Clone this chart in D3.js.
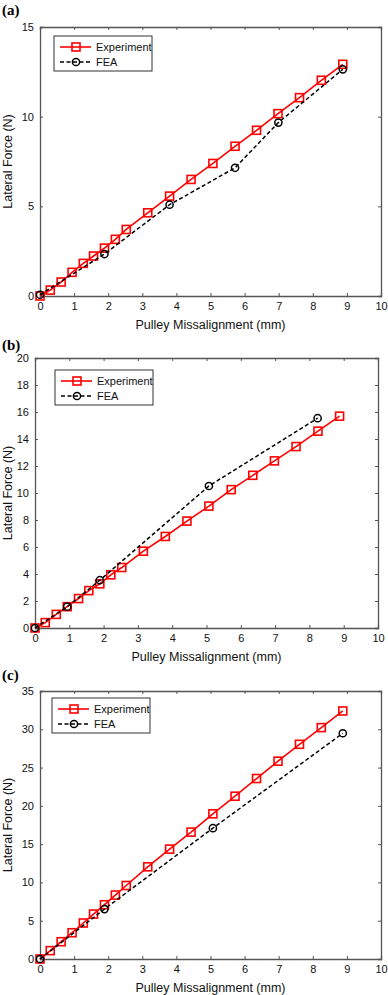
<!DOCTYPE html>
<html>
<head>
<meta charset="utf-8">
<script src="https://d3js.org/d3.v7.min.js"></script>
<style>
  body { margin: 0; background: #fff; }
  text { font-family: "Liberation Sans", Arial, sans-serif; fill: #111; }
  .panel-label { font-family: "Liberation Serif", "Times New Roman", serif; font-weight: bold; font-size: 15px; fill: #000; }
</style>
</head>
<body>
<svg id="chart" width="388" height="995"></svg>
<script>
// Section: data (mm, N)
var xExp = [0, 0.3, 0.62, 0.94, 1.27, 1.57, 1.89, 2.21, 2.53, 3.16, 3.8, 4.43, 5.07, 5.72, 6.35, 6.98, 7.61, 8.25, 8.88];

var yExpA = [0, 0.33, 0.78, 1.32, 1.82, 2.23, 2.67, 3.16, 3.71, 4.64, 5.57, 6.5, 7.39, 8.35, 9.24, 10.17, 11.06, 12.03, 12.92];
var xFeaA = [0, 1.89, 3.8, 5.72, 6.99, 8.88];
var yFeaA = [0.07, 2.34, 5.09, 7.15, 9.67, 12.64];

var yExpB = [0, 0.4, 1.01, 1.58, 2.18, 2.77, 3.27, 3.94, 4.48, 5.69, 6.78, 7.92, 9.03, 10.25, 11.31, 12.38, 13.44, 14.58, 15.69];
var xFeaB = [0, 0.94, 1.89, 5.07, 8.24];
var yFeaB = [0, 1.58, 3.54, 10.52, 15.54];

var yExpC = [0, 1.09, 2.26, 3.43, 4.7, 5.87, 7.09, 8.35, 9.6, 12.04, 14.35, 16.57, 18.96, 21.26, 23.57, 25.83, 28.04, 30.22, 32.39];
var xFeaC = [0, 1.89, 5.07, 8.88];
var yFeaC = [0, 6.52, 17.09, 29.48];

var xTicks = [0, 1, 2, 3, 4, 5, 6, 7, 8, 9, 10];
var yTicksA = [0, 5, 10, 15];
var yTicksB = [0, 2, 4, 6, 8, 10, 12, 14, 16, 18, 20];
var yTicksC = [0, 5, 10, 15, 20, 25, 30, 35];

var panelNames = ['(a)', '(b)', '(c)'];
var seriesNames = ['Experiment', 'FEA'];
var xTitle = 'Pulley Missalignment (mm)';
var yTitle = 'Lateral Force (N)';

// Section: layout per panel
var panels = [
    {name: panelNames[0], l: 40, r: 381, t: 27, b: 296, yTicks: yTicksA, yExp: yExpA, xFea: xFeaA, yFea: yFeaA, lab: [2, 15], leg: [54, 36]},
    {name: panelNames[1], l: 35, r: 378, t: 358, b: 628, yTicks: yTicksB, yExp: yExpB, xFea: xFeaB, yFea: yFeaB, lab: [2, 350], leg: [55, 370]},
    {name: panelNames[2], l: 40, r: 381, t: 691, b: 959, yTicks: yTicksC, yExp: yExpC, xFea: xFeaC, yFea: yFeaC, lab: [2, 680], leg: [52, 698]}
];

var red = '#ff0000';
var svg = d3.select('#chart');

panels.forEach(function(p) {
    var g = svg.append('g');
    var xScale = d3.scaleLinear().domain([0, 10]).range([p.l, p.r]);
    var yScale = d3.scaleLinear().domain([0, d3.max(p.yTicks)]).range([p.b, p.t]);

    // panel label
    g.append('text').attr('class', 'panel-label')
        .attr('x', p.lab[0]).attr('y', p.lab[1]).text(p.name);

    // axes (MATLAB style: ticks inside, on all four sides)
    var bottomAxis = g.append('g').attr('transform', 'translate(0,' + p.b + ')')
        .call(d3.axisBottom(xScale).tickValues(xTicks).tickSize(-3).tickPadding(6));
    var topAxis = g.append('g').attr('transform', 'translate(0,' + p.t + ')')
        .call(d3.axisTop(xScale).tickValues(xTicks).tickSize(-3).tickFormat(''));
    var leftAxis = g.append('g').attr('transform', 'translate(' + p.l + ',0)')
        .call(d3.axisLeft(yScale).tickValues(p.yTicks).tickSize(-3).tickPadding(6));
    var rightAxis = g.append('g').attr('transform', 'translate(' + p.r + ',0)')
        .call(d3.axisRight(yScale).tickValues(p.yTicks).tickSize(-3).tickFormat(''));

    [bottomAxis, topAxis, leftAxis, rightAxis].forEach(function(a) {
        a.select('.domain').attr('stroke', '#555').attr('stroke-width', 1.3);
        a.selectAll('.tick line').attr('stroke', '#555');
        a.selectAll('.tick text').attr('font-size', '11px').attr('fill', '#111')
            .attr('font-family', '"Liberation Sans", Arial, sans-serif');
    });

    // axis titles
    g.append('text')
        .attr('x', (p.l + p.r) / 2).attr('y', p.b + 33)
        .attr('text-anchor', 'middle').attr('font-size', '12.5px')
        .text(xTitle);
    g.append('text')
        .attr('transform', 'translate(' + 12 + ',' + ((p.t + p.b) / 2) + ')rotate(-90)')
        .attr('text-anchor', 'middle').attr('font-size', '12.5px')
        .text(yTitle);

    var line = d3.line().x(d => xScale(d[0])).y(d => yScale(d[1]));
    var expData = xExp.map((x, i) => [x, p.yExp[i]]);
    var feaData = p.xFea.map((x, i) => [x, p.yFea[i]]);

    // experiment series
    g.append('path').datum(expData)
        .attr('d', line).attr('fill', 'none')
        .attr('stroke', red).attr('stroke-width', 1.6);
    g.selectAll('.sq').data(expData).enter()
        .append('rect').attr('class', 'sq')
        .attr('x', d => xScale(d[0]) - 4).attr('y', d => yScale(d[1]) - 4)
        .attr('width', 8).attr('height', 8)
        .attr('fill', 'none').attr('stroke', red).attr('stroke-width', 1.6);

    // FEA series
    g.append('path').datum(feaData)
        .attr('d', line).attr('fill', 'none')
        .attr('stroke', '#000').attr('stroke-width', 1.5)
        .attr('stroke-dasharray', '4,2.5');
    g.selectAll('.ci').data(feaData).enter()
        .append('circle').attr('class', 'ci')
        .attr('cx', d => xScale(d[0])).attr('cy', d => yScale(d[1]))
        .attr('r', 3.6)
        .attr('fill', 'none').attr('stroke', '#000').attr('stroke-width', 1.5);

    // legend
    var lg = g.append('g').attr('transform', 'translate(' + p.leg + ')');
    lg.append('rect').attr('width', 98).attr('height', 35)
        .attr('fill', '#fff').attr('stroke', '#333').attr('stroke-width', 1);
    lg.append('line').attr('x1', 6).attr('x2', 37).attr('y1', 11).attr('y2', 11)
        .attr('stroke', red).attr('stroke-width', 1.6);
    lg.append('rect').attr('x', 18).attr('y', 7).attr('width', 8).attr('height', 8)
        .attr('fill', 'none').attr('stroke', red).attr('stroke-width', 1.6);
    lg.append('line').attr('x1', 6).attr('x2', 37).attr('y1', 26).attr('y2', 26)
        .attr('stroke', '#000').attr('stroke-width', 1.5).attr('stroke-dasharray', '4,2.5');
    lg.append('circle').attr('cx', 22).attr('cy', 26).attr('r', 3.6)
        .attr('fill', 'none').attr('stroke', '#000').attr('stroke-width', 1.5);
    lg.selectAll('.lt').data(seriesNames).enter()
        .append('text').attr('class', 'lt')
        .attr('x', 42).attr('y', (d, i) => 15 + i * 15)
        .attr('font-size', '11px').text(d => d);
});
</script>
</body>
</html>
